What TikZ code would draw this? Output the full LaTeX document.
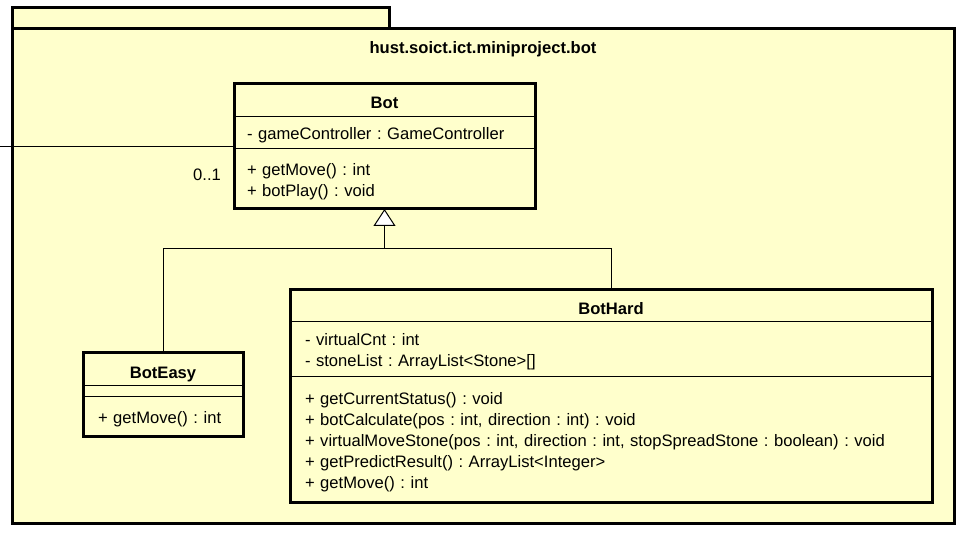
\documentclass[tikz,border=0pt]{standalone}
\usepackage{fontspec}
\setmainfont{Liberation Sans}
\usetikzlibrary{positioning}
\usetikzlibrary{arrows.meta}

\definecolor{umlyellow}{RGB}{255,255,204}
\newcommand\umlfont{\fontsize{16.6}{21}\selectfont\frenchspacing}

\tikzset{
	pkg/.style={draw, line width=3pt, fill=umlyellow, outer sep=0pt},
	compart/.style={draw, line width=1pt, fill=umlyellow, outer sep=0pt, inner xsep=12pt, inner ysep=0pt, align=left, font=\umlfont},
	textpart/.style={compart, text height=17pt},
	ctitle/.style={textpart, text depth=0pt, align=center, font=\umlfont\bfseries},
	outline/.style={draw, line width=3pt},
	conn/.style={line width=1pt},
	inherit/.style={conn, -{Triangle[width=22pt,length=17pt,fill=white]}},
}

\begin{document}
\begin{tikzpicture}[x=1pt,y=-1pt,node distance=0pt]
		\useasboundingbox[fill=white] (0,0) rectangle (961,534);
		% package
		\node[pkg, anchor=south west, minimum width=377pt, minimum height=21pt] (pkg_tab) at (12,29) {};
		\node[pkg, anchor=north west, minimum width=942pt, minimum height=494pt] (pkg_body) at (12,29) {};
		\node[font=\umlfont\bfseries] (pkg_name) at (483,49) {hust.soict.ict.miniproject.bot};
		
		% Bot
		\node[ctitle, anchor=north, text width=277pt, minimum height=33pt] (bot) at (384.5,84) {Bot};
		\node[textpart, text width=275pt, inner xsep=13pt, minimum height=32pt] (bot_a) [below=of bot] {- gameController : GameController};
		\node[textpart, text width=275pt, inner xsep=13pt, minimum height=60pt] (bot_m) [below=of bot_a] {+ getMove() : int\\+ botPlay() : void};
		\draw[outline] (bot.north west) rectangle (bot_m.south east);
		
		% BotEasy
		\node[ctitle, anchor=north, text width=136pt, minimum height=33pt] (easy) at (163,353) {BotEasy};
		\node[compart, minimum width=160pt, minimum height=11pt] (easy_a) [below=of easy] {};
		\node[textpart, text width=130pt, inner xsep=15pt, minimum height=39pt] (easy_m) [below=of easy_a] {+ getMove() : int};
		\draw[outline] (easy.north west) rectangle (easy_m.south east);
		
		% BotHard
		\node[ctitle, anchor=north, text width=618pt, minimum height=32pt] (hard) at (611,290) {BotHard};
		\node[textpart, text width=612pt, inner xsep=15pt, minimum height=55pt] (hard_a) [below=of hard] {- virtualCnt : int\\- stoneList : ArrayList<Stone>[]};
		\node[textpart, text width=612pt, inner xsep=15pt, minimum height=125pt] (hard_m) [below=of hard_a] {+ getCurrentStatus() : void\\+ botCalculate(pos : int, direction : int) : void\\+ virtualMoveStone(pos : int, direction : int, stopSpreadStone : boolean) : void\\+ getPredictResult() : ArrayList<Integer>\\+ getMove() : int};
		\draw[outline] (hard.north west) rectangle (hard_m.south east);
		
		% association
		\coordinate (assoc_end) at (0,147);
		\draw[conn] (assoc_end) -- (assoc_end -| bot.west);
		\node[font=\umlfont] (mult) at (207,175) {0..1};
		
		% generalization
		\coordinate (join) at (384.5,249);
		\draw[conn] (hard.north) |- (join);
		\draw[inherit] (easy.north) |- (join) -- (bot_m.south);
\end{tikzpicture}
\end{document}
